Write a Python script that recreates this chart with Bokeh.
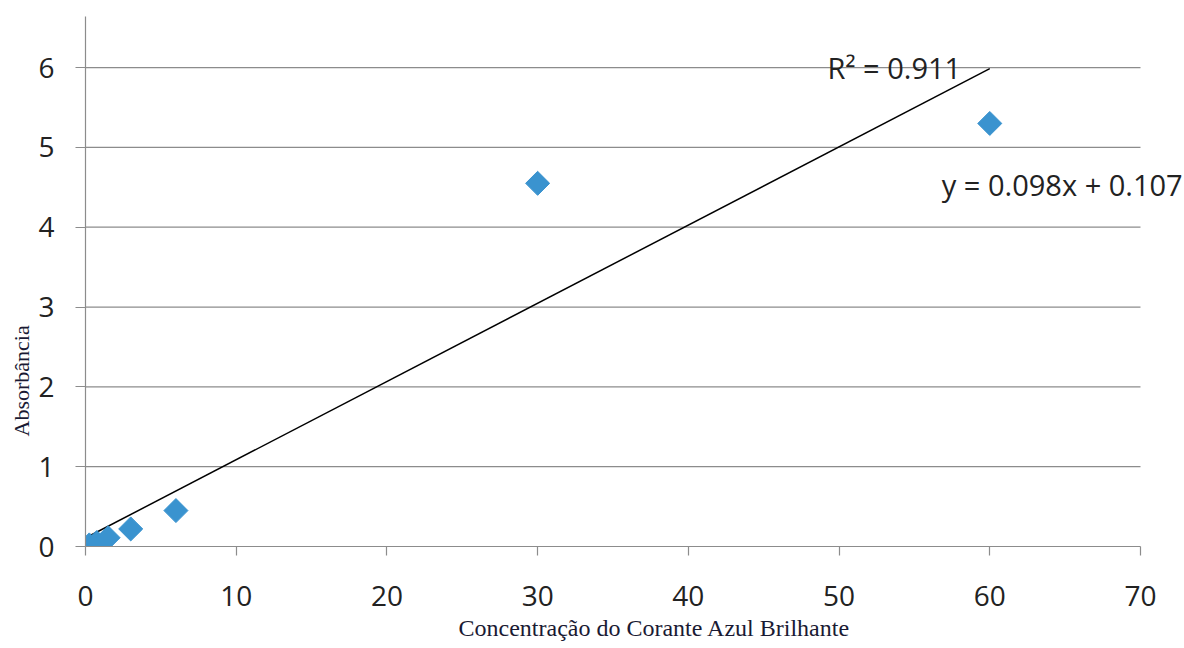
import numpy as np
from bokeh.plotting import figure
from bokeh.models import ColumnDataSource, Range1d, FixedTicker, Label, Title
from bokeh.embed import file_html
from bokeh.resources import INLINE

# Data
concentration = [0.25, 0.75, 1.5, 3, 6, 30, 60]
absorbance = [0.02, 0.05, 0.11, 0.22, 0.45, 4.55, 5.30]
slope = 0.098
intercept = 0.107
r2_text = "R² = 0.911"
eq_text = "y = 0.098x + 0.107"
x_ticks = [0, 10, 20, 30, 40, 50, 60, 70]
y_ticks = [0, 1, 2, 3, 4, 5, 6]
x_title = "Concentração do Corante Azul Brilhante"
y_title = "Absorbância"

GRAY = "#8c8c8c"
TXT = "#222222"

p = figure(width=1184, height=648, output_backend="svg", toolbar_location=None,
           x_range=Range1d(0, 72.92), y_range=Range1d(0, 6.64),
           min_border_left=85, min_border_right=0, min_border_top=16, min_border_bottom=101)
p.outline_line_color = None
p.background_fill_color = "white"
p.border_fill_color = "white"
p.xgrid.grid_line_color = None
p.ygrid.grid_line_color = None

for ax in (p.xaxis[0], p.yaxis[0]):
    ax.axis_line_color = GRAY
    ax.axis_line_width = 1.2
    ax.major_tick_line_color = GRAY
    ax.major_tick_line_width = 1.2
    ax.minor_tick_line_color = None
    ax.major_tick_in = 0
    ax.major_label_text_font = "Open Sans"
    ax.major_label_text_font_size = "28px"
    ax.major_label_text_color = TXT

p.xaxis.ticker = FixedTicker(ticks=x_ticks)
p.yaxis.ticker = FixedTicker(ticks=y_ticks)
p.xaxis.bounds = (0, 70)
p.xaxis.major_tick_out = 9
p.yaxis.major_tick_out = 10
p.xaxis.major_label_standoff = 30
p.yaxis.major_label_standoff = 21

# Axis titles as side titles (so they can be offset like the original)
p.add_layout(Title(text=x_title, align="left", offset=373, vertical_align="top",
                   text_font="Liberation Serif", text_font_size="24px",
                   text_font_style="normal", text_color="#1a1a33", standoff=12), "below")
p.add_layout(Title(text=y_title, align="left", offset=110, vertical_align="bottom",
                   text_font="Liberation Serif", text_font_size="22px",
                   text_font_style="normal", text_color="#1a1a33", standoff=4), "left")

# Horizontal gridlines from 0 to 70
gy = y_ticks[1:]
p.segment(x0=[x_ticks[0]] * len(gy), x1=[x_ticks[-1]] * len(gy), y0=gy, y1=gy,
          line_color=GRAY, line_width=1.3)

# Trend line
xs = np.array([min(concentration), max(concentration)])
p.line(xs, slope * xs + intercept, line_color="black", line_width=1.5)

src = ColumnDataSource(dict(x=concentration, y=absorbance))
p.scatter("x", "y", source=src, marker="square", size=17, angle=np.pi / 4,
          fill_color="#3a93cf", line_color="#3a93cf")

p.add_layout(Label(x=58.1, y=6.0, text=r2_text, text_font="Open Sans", text_font_size="29px",
                   text_color=TXT, text_align="right", text_baseline="middle"))
p.add_layout(Label(x=72.8, y=4.54, text=eq_text, text_font="Open Sans", text_font_size="29px",
                   text_color=TXT, text_align="right", text_baseline="middle"))

open("out.html", "w").write(file_html(p, INLINE))
